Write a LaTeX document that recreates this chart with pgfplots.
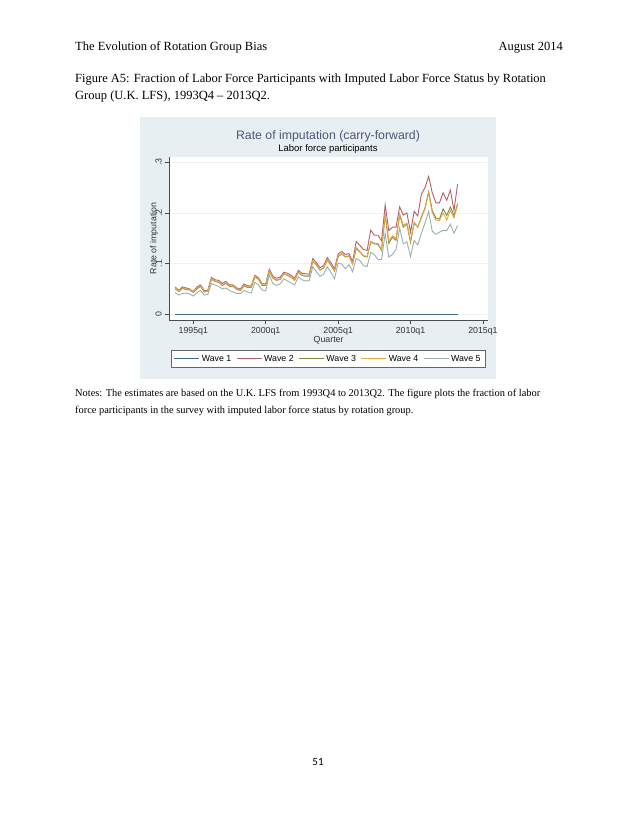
\documentclass[border=0pt]{standalone}
\usepackage{fontspec}
\setmainfont{Liberation Serif}
\newfontfamily\chartfont{Liberation Sans}
\newfontfamily\calfont{Carlito}
\usepackage{pgfplots}
\pgfplotsset{compat=1.18}
\usepackage{pgfplotstable}

\definecolor{bgcol}{HTML}{E7EFF2}
\definecolor{gridcol}{HTML}{EDF2F3}
\definecolor{titlecol}{HTML}{4A5878}
\definecolor{waveA}{HTML}{40698A}
\definecolor{waveB}{HTML}{B4606C}
\definecolor{waveC}{HTML}{7E8C48}
\definecolor{waveD}{HTML}{E8A640}
\definecolor{waveE}{HTML}{9AB0AE}

% quarter (Stata %tq: 1960q1 = 0), one column per wave
\pgfplotstableread{
q    w1  w2    w3    w4    w5
135  0   .054  .050  .052  .043
136  0   .047  .045  .046  .038
137  0   .054  .051  .052  .041
138  0   .052  .049  .050  .042
139  0   .050  .048  .049  .040
140  0   .045  .043  .044  .036
141  0   .054  .050  .052  .043
142  0   .058  .055  .056  .047
143  0   .047  .044  .045  .038
144  0   .047  .046  .046  .039
145  0   .073  .069  .070  .061
146  0   .068  .065  .066  .058
147  0   .067  .063  .064  .055
148  0   .061  .057  .058  .050
149  0   .065  .061  .062  .052
150  0   .058  .055  .056  .047
151  0   .058  .055  .056  .044
152  0   .052  .049  .050  .041
153  0   .050  .047  .048  .041
154  0   .060  .056  .057  .047
155  0   .056  .053  .054  .044
156  0   .056  .053  .054  .042
157  0   .077  .073  .074  .063
158  0   .072  .069  .070  .058
159  0   .060  .057  .058  .048
160  0   .060  .057  .058  .046
161  0   .089  .085  .086  .078
162  0   .075  .071  .072  .060
163  0   .071  .067  .068  .057
164  0   .073  .069  .070  .060
165  0   .083  .080  .080  .070
166  0   .081  .077  .078  .066
167  0   .077  .073  .074  .062
168  0   .071  .067  .068  .058
169  0   .087  .083  .084  .074
170  0   .081  .077  .078  .068
171  0   .080  .075  .076  .066
172  0   .079  .075  .076  .066
173  0   .110  .105  .106  .094
174  0   .102  .097  .098  .084
175  0   .092  .087  .088  .075
176  0   .096  .091  .092  .079
177  0   .112  .107  .108  .094
178  0   .102  .097  .098  .083
179  0   .090  .085  .086  .070
180  0   .119  .114  .115  .101
181  0   .124  .119  .120  .099
182  0   .118  .113  .114  .090
183  0   .120  .115  .116  .098
184  0   .104  .099  .100  .084
185  0   .144  .130  .132  .110
186  0   .136  .123  .124  .106
187  0   .128  .115  .116  .096
188  0   .126  .113  .114  .094
189  0   .166  .142  .144  .122
190  0   .156  .139  .140  .118
191  0   .156  .138  .140  .108
192  0   .145  .126  .128  .108
193  0   .216  .195  .196  .160
194  0   .165  .140  .145  .113
195  0   .172  .152  .155  .118
196  0   .172  .146  .150  .128
197  0   .212  .196  .198  .170
198  0   .196  .172  .176  .139
199  0   .200  .178  .180  .143
200  0   .162  .142  .145  .114
201  0   .203  .180  .182  .146
202  0   .194  .172  .172  .137
203  0   .237  .192  .190  .160
204  0   .250  .210  .208  .180
205  0   .272  .242  .240  .203
206  0   .240  .205  .200  .164
207  0   .220  .190  .186  .158
208  0   .220  .188  .185  .162
209  0   .240  .208  .200  .166
210  0   .225  .195  .186  .165
211  0   .245  .212  .205  .178
212  0   .205  .195  .190  .160
213  0   .257  .218  .216  .175
}\ratetab

\begin{document}
\begin{tikzpicture}[x=1pt,y=1pt]
\useasboundingbox (0,0) rectangle (638,826);
\fill[white] (0,0) rectangle (638,826);

% page text
\node[anchor=base west,inner sep=0,font=\fontsize{12.5}{15}\selectfont] at (75,775) {The Evolution of Rotation Group Bias};
\node[anchor=base east,inner sep=0,font=\fontsize{12.5}{15}\selectfont] at (563,775) {August 2014};
\node[anchor=base west,inner sep=0,font=\fontsize{12.5}{15}\selectfont] at (75,743) {Figure A5: Fraction of Labor Force Participants with Imputed Labor Force Status by Rotation};
\node[anchor=base west,inner sep=0,font=\fontsize{12.5}{15}\selectfont] at (75,726) {Group (U.K. LFS), 1993Q4 -- 2013Q2.};
\node[anchor=base west,inner sep=0,font=\fontsize{10.4}{12}\selectfont] at (75,429) {Notes: The estimates are based on the U.K. LFS from 1993Q4 to 2013Q2. The figure plots the fraction of labor};
\node[anchor=base west,inner sep=0,font=\fontsize{10.4}{12}\selectfont] at (75,412) {force participants in the survey with imputed labor force status by rotation group.};
\node[inner sep=0,font=\calfont\fontsize{11}{13}\selectfont] at (318,64) {51};

% chart region
\fill[bgcol] (140,709) rectangle (496,447);
\node[font=\chartfont\fontsize{12.3}{14}\selectfont,text=titlecol] at (328,690) {Rate of imputation (carry-forward)};
\node[font=\chartfont\fontsize{9.5}{11}\selectfont] at (328,677) {Labor force participants};

\begin{axis}[
  at={(169.3pt,506pt)}, anchor=south west,
  scale only axis, width=318.7pt, height=163pt,
  xmin=133.37, xmax=221.4, ymin=-0.01125, ymax=0.3105,
  axis x line*=bottom, axis y line*=left,
  axis line style={draw=black!70, line width=0.5pt},
  axis background/.style={fill=white},
  xtick={140,160,180,200,220},
  xticklabels={1995q1,2000q1,2005q1,2010q1,2015q1},
  ytick={0,0.1,0.2,0.3},
  yticklabels={0,.1,.2,.3},
  tick align=outside, major tick length=4pt,
  tick style={draw=black!70, line width=0.5pt},
  ymajorgrids, grid style={draw=gridcol, line width=0.6pt},
  ticklabel style={font=\chartfont\fontsize{8.8}{10}\selectfont, text=black!80},
  yticklabel style={rotate=90, anchor=south},
  xlabel={Quarter},
  ylabel={Rate of imputation},
  label style={font=\chartfont\fontsize{8.8}{10}\selectfont, text=black!80},
  xlabel style={at={(axis description cs:0.5,-0.125)}, anchor=center},
  ylabel style={at={(axis description cs:-0.048,0.5)}, anchor=center, rotate=0},
  legend columns=5,
  legend style={at={(axis description cs:0.499,-0.184)}, anchor=north,
    draw=black!60, fill=white, line width=0.5pt,
    font=\chartfont\fontsize{8.8}{10}\selectfont,
    /tikz/every even column/.append style={column sep=3pt},
    inner ysep=2.8pt},
  legend image code/.code={\draw[#1, line width=0.8pt] (0pt,0pt) -- (25pt,0pt);},
  every axis plot/.append style={line width=0.9pt},
]
\addplot[waveA] table[x=q,y=w1] {\ratetab};
\addlegendentry{Wave 1}
\addplot[waveB] table[x=q,y=w2] {\ratetab};
\addlegendentry{Wave 2}
\addplot[waveC] table[x=q,y=w3] {\ratetab};
\addlegendentry{Wave 3}
\addplot[waveD] table[x=q,y=w4] {\ratetab};
\addlegendentry{Wave 4}
\addplot[waveE] table[x=q,y=w5] {\ratetab};
\addlegendentry{Wave 5}
\end{axis}
\end{tikzpicture}
\end{document}
